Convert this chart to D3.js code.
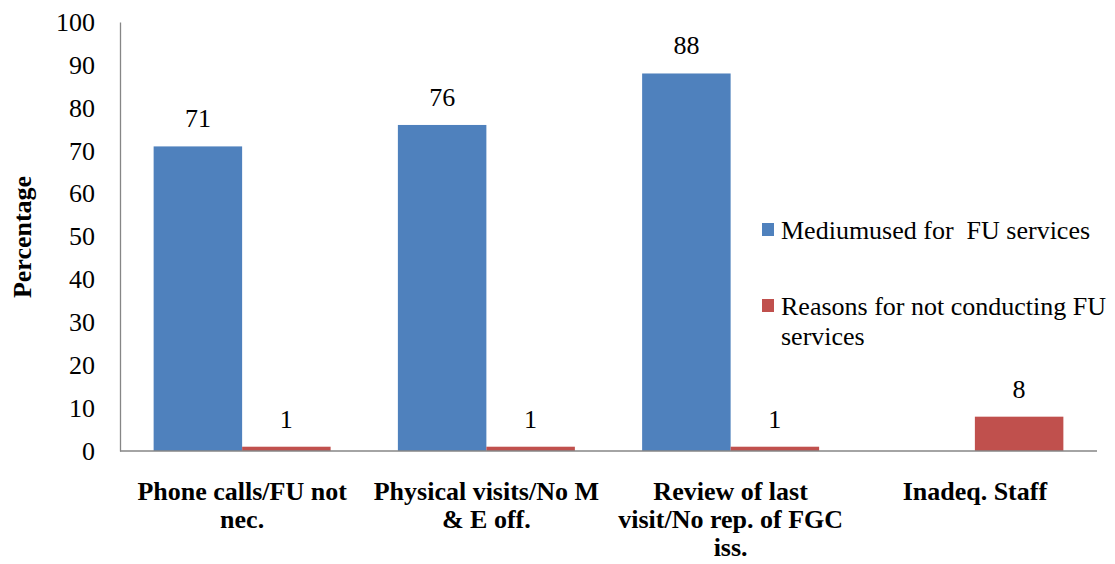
<!DOCTYPE html>
<html>
<head>
<meta charset="utf-8">
<script src="https://cdn.jsdelivr.net/npm/d3@7"></script>
<style>
  html, body { margin: 0; padding: 0; background: #fff; }
  svg { display: block; }
  svg text { font-family: "Liberation Serif", "Times New Roman", serif; }
</style>
</head>
<body>
<svg id="chart" width="1115" height="564"></svg>
<script>
// Categories (axis labels, with their line breaks)
const categories = [
  "Phone calls/FU not\nnec.",
  "Physical visits/No M\n& E off.",
  "Review of last\nvisit/No rep. of FGC\niss.",
  "Inadeq. Staff"
];
const seriesNames = ["Mediumused for  FU services", "Reasons for not conducting FU\nservices"];
const mediumUsed = [71, 76, 88, null];
const reasonsNot = [1, 1, 1, 8];
const yTicks = [0, 10, 20, 30, 40, 50, 60, 70, 80, 90, 100];
const colors = ["#4F81BD", "#C0504D"];

const serif = "Liberation Serif";
const fs = 26;
const svg = d3.select("#chart");
const plot = { left: 120, right: 1097, top: 22, bottom: 451 };

const x0 = d3.scaleBand().domain(categories).range([plot.left, plot.right]).paddingInner(0).paddingOuter(0);
const x1 = d3.scaleBand().domain([0, 1]).range([0, x0.bandwidth()]).paddingInner(0).paddingOuter(0.38);
const y = d3.scaleLinear().domain([0, 100]).range([plot.bottom, plot.top]);

// Y axis
const yAxis = d3.axisLeft(y).tickValues(yTicks).tickSize(0).tickPadding(25).tickFormat(d3.format("d"));
const gy = svg.append("g").attr("transform", `translate(${plot.left},0)`).call(yAxis)
  .attr("font-family", serif).attr("font-size", fs);
gy.select(".domain").attr("stroke", "#868686").attr("stroke-width", 1.3);
gy.selectAll("text").attr("font-size", fs).attr("fill", "#000").attr("font-family", serif);

// Bars
const series = [mediumUsed, reasonsNot];
series.forEach((vals, si) => {
  const g = svg.append("g");
  categories.forEach((c, i) => {
    const v = vals[i];
    if (v == null) return;
    const bx = x0(c) + x1(si);
    g.append("rect")
      .attr("x", bx).attr("y", y(v))
      .attr("width", x1.bandwidth()).attr("height", y(0) - y(v))
      .attr("fill", colors[si]);
    g.append("text")
      .attr("x", bx + x1.bandwidth() / 2).attr("y", y(v) - 19)
      .attr("text-anchor", "middle").attr("font-size", fs).attr("fill", "#000")
      .attr("font-family", serif)
      .text(v);
  });
});

// X baseline
svg.append("line")
  .attr("x1", plot.left).attr("x2", plot.right)
  .attr("y1", y(0)).attr("y2", y(0))
  .attr("stroke", "#868686").attr("stroke-width", 1.3);

// Category labels
categories.forEach(c => {
  const lines = c.split("\n");
  const t = svg.append("text")
    .attr("text-anchor", "middle").attr("font-size", fs).attr("font-weight", "bold").attr("fill", "#000")
    .attr("font-family", serif);
  lines.forEach((ln, k) => {
    t.append("tspan").attr("x", x0(c) + x0.bandwidth() / 2).attr("y", 500 + k * 28).text(ln);
  });
});

// Y axis title
svg.append("text")
  .attr("transform", "translate(31,237) rotate(-90)")
  .attr("text-anchor", "middle").attr("font-size", fs).attr("font-weight", "bold").attr("fill", "#000")
  .attr("font-family", serif)
  .text("Percentage");

// Legend
const legendBase = [239, 315];
seriesNames.forEach((name, si) => {
  svg.append("rect")
    .attr("x", 762).attr("y", legendBase[si] - 16).attr("width", 12).attr("height", 13)
    .attr("fill", colors[si]);
  const t = svg.append("text").attr("font-size", fs).attr("fill", "#000").attr("font-family", serif);
  name.split("\n").forEach((ln, k) => {
    t.append("tspan").attr("x", 781).attr("y", legendBase[si] + k * 30).attr("xml:space", "preserve").text(ln);
  });
});
</script>
</body>
</html>
